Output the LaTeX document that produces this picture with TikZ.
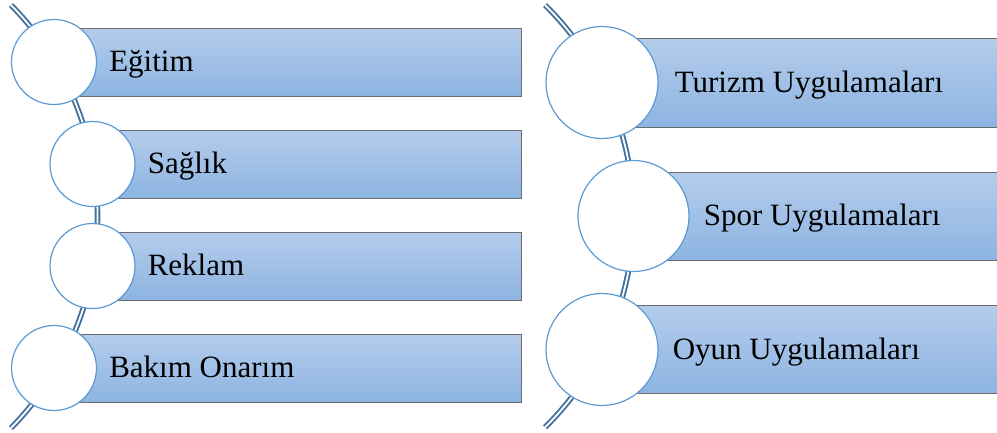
\documentclass[tikz,border=0pt]{standalone}
\usepackage{fontspec}
\setmainfont{Liberation Serif}
\usetikzlibrary{positioning}
\definecolor{barTop}{RGB}{180,204,235}
\definecolor{barBot}{RGB}{141,180,226}
\definecolor{ringBlue}{RGB}{91,155,213}
\definecolor{spineBlue}{RGB}{65,113,156}
\tikzset{
	bar/.style={rectangle, anchor=north west, draw=gray!85!black, line width=0.9pt, top color=barTop, bottom color=barBot},
	ring/.style={circle, draw=ringBlue, line width=1.2pt, fill=white, inner sep=0pt},
	spine/.style={draw=spineBlue, line width=1.9pt, double=white, double distance=1.8pt},
	lbl/.style={anchor=west, inner sep=0pt, text height=19.4pt, text depth=0pt, font=\fontsize{31}{31}\selectfont}
}
\begin{document}
\begin{tikzpicture}[x=1pt, y=-1pt]
	\useasboundingbox (0,0) rectangle (997,432);

	% linke Liste
	\coordinate (lTop) at (11,5);
	\draw[spine] (lTop) arc[start angle=-44.5, end angle=44.5, radius=301.8];%linker Bogen
	\node[bar, minimum width=467pt, minimum height=68pt] (b1) at (54,28) {};
	\node[bar, minimum width=429pt, minimum height=68pt] (b2) at (92,130) {};
	\node[bar, minimum width=429pt, minimum height=68pt] (b3) at (92,232) {};
	\node[bar, minimum width=467pt, minimum height=68pt] (b4) at (54,334) {};
	\node[ring, minimum size=85pt] (c1) at (54,62) {};
	\node[ring, minimum size=85pt] (c2) at (92.5,164) {};
	\node[ring, minimum size=85pt] (c3) at (92.5,266) {};
	\node[ring, minimum size=85pt] (c4) at (54,368) {};
	\node[lbl, right=12pt of c1] (t1) {Eğitim};
	\node[lbl, right=12pt of c2] (t2) {Sağlık};
	\node[lbl, right=12pt of c3] (t3) {Reklam};
	\node[lbl, right=12pt of c4] (t4) {Bakım Onarım};

	% rechte Liste
	\coordinate (rTop) at (545,5);
	\draw[spine] (rTop) arc[start angle=-45.5, end angle=45.5, radius=296.1];%rechter Bogen
	\node[bar, minimum width=395pt, minimum height=89pt] (b5) at (602,38) {};
	\node[bar, minimum width=363pt, minimum height=88pt] (b6) at (633.5,172) {};
	\node[bar, minimum width=395pt, minimum height=88pt] (b7) at (602,305) {};
	\node[ring, minimum size=112pt] (c5) at (602,82.5) {};
	\node[ring, minimum size=111pt] (c6) at (633.5,216) {};
	\node[ring, minimum size=112pt] (c7) at (602,349.5) {};
	\node[lbl, right=16pt of c5] (t5) {Turizm Uygulamaları};
	\node[lbl, right=14pt of c6] (t6) {Spor Uygulamaları};
	\node[lbl, right=14pt of c7] (t7) {Oyun Uygulamaları};
\end{tikzpicture}
\end{document}
